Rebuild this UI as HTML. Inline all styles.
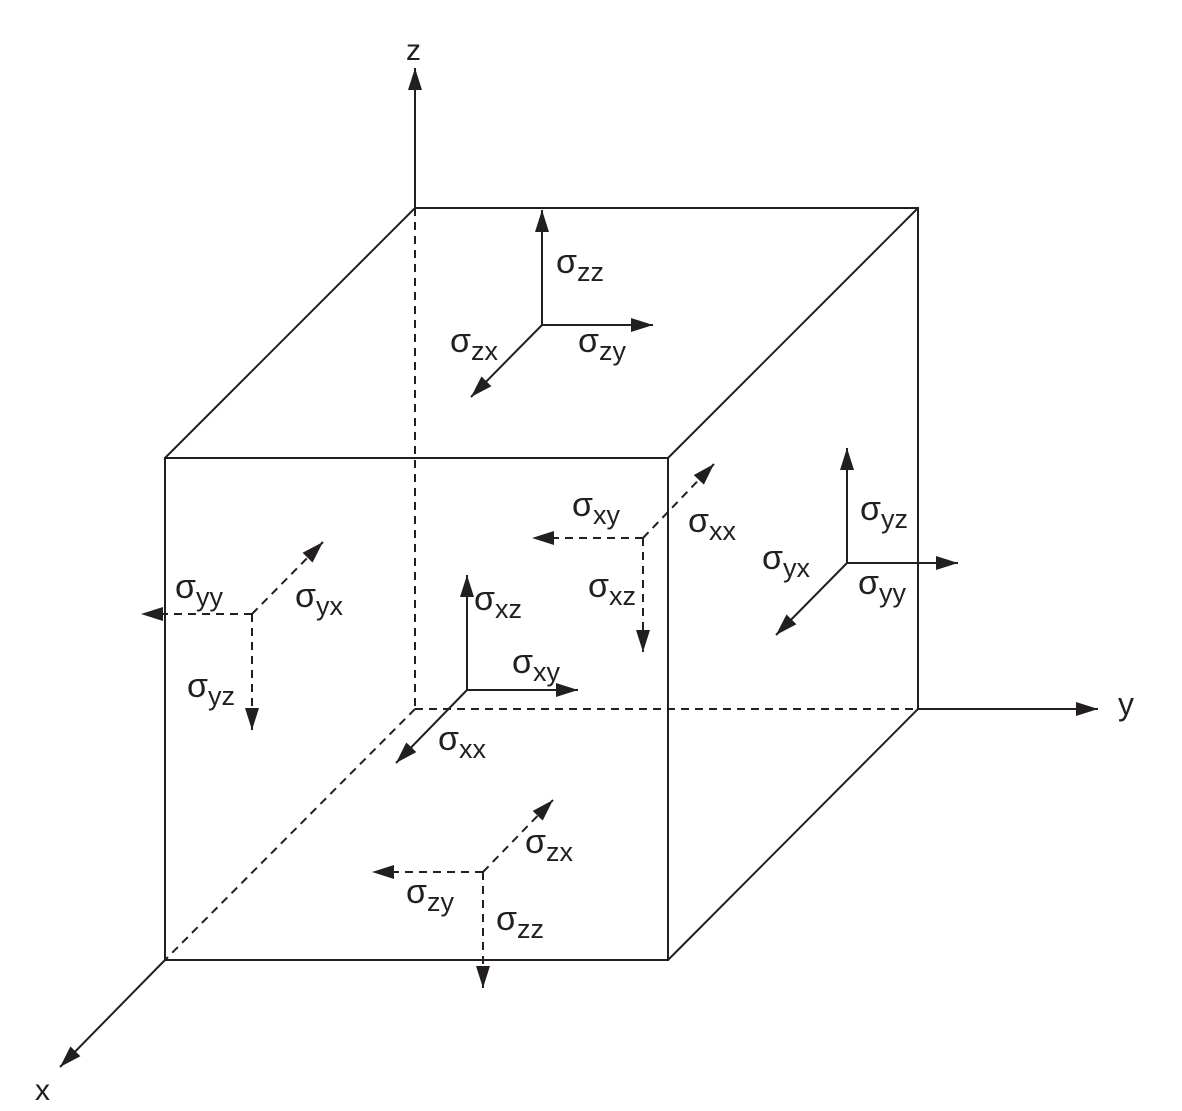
<!DOCTYPE html>
<html><head><meta charset="utf-8"><style>
html,body{margin:0;padding:0;background:#fff;}
svg{display:block;}
text{font-family:"Liberation Sans","DejaVu Sans",sans-serif;fill:#231f20;}
.s{font-size:34px;}
.b{font-size:27px;}
</style></head><body>
<svg width="1182" height="1111" viewBox="0 0 1182 1111" xmlns="http://www.w3.org/2000/svg">
<defs>
<marker id="a" markerUnits="userSpaceOnUse" markerWidth="24" markerHeight="14" refX="22" refY="7" orient="auto">
<path d="M0,0 L22,7 L0,14 Z" fill="#231f20"/>
</marker>
</defs>
<g stroke="#231f20" stroke-width="2" fill="none">
<!-- cube solid -->
<rect x="165" y="458" width="503" height="502"/>
<polyline points="165,458 415,208 918,208 918,709 668,960"/>
<line x1="918" y1="208" x2="668" y2="458"/>
<!-- cube hidden -->
<g stroke-dasharray="8,6">
<line x1="415" y1="208" x2="415" y2="709"/>
<line x1="415" y1="709" x2="918" y2="709"/>
<line x1="415" y1="709" x2="165" y2="960"/>
</g>
<!-- axes -->
<line x1="415" y1="208" x2="415" y2="68" marker-end="url(#a)"/>
<line x1="918" y1="709" x2="1098" y2="709" marker-end="url(#a)"/>
<line x1="165" y1="960" x2="60" y2="1067" marker-end="url(#a)"/>
<!-- top face -->
<line x1="542" y1="325" x2="542" y2="210" marker-end="url(#a)"/>
<line x1="542" y1="325" x2="653" y2="325" marker-end="url(#a)"/>
<line x1="542" y1="325" x2="471" y2="397" marker-end="url(#a)"/>
<!-- right face -->
<line x1="847" y1="563" x2="847" y2="448" marker-end="url(#a)"/>
<line x1="847" y1="563" x2="958" y2="563" marker-end="url(#a)"/>
<line x1="847" y1="563" x2="776" y2="635" marker-end="url(#a)"/>
<!-- front face -->
<line x1="467" y1="690" x2="467" y2="575" marker-end="url(#a)"/>
<line x1="467" y1="690" x2="578" y2="690" marker-end="url(#a)"/>
<line x1="467" y1="690" x2="396" y2="763" marker-end="url(#a)"/>
<g stroke-dasharray="8,6">
<!-- back face -->
<line x1="643" y1="538" x2="532" y2="538" marker-end="url(#a)"/>
<line x1="643" y1="538" x2="643" y2="652" marker-end="url(#a)"/>
<line x1="643" y1="538" x2="714" y2="464" marker-end="url(#a)"/>
<!-- left face -->
<line x1="252" y1="614" x2="141" y2="614" marker-end="url(#a)"/>
<line x1="252" y1="614" x2="252" y2="730" marker-end="url(#a)"/>
<line x1="252" y1="614" x2="323" y2="542" marker-end="url(#a)"/>
<!-- bottom face -->
<line x1="483" y1="872" x2="372" y2="872" marker-end="url(#a)"/>
<line x1="483" y1="872" x2="483" y2="988" marker-end="url(#a)"/>
<line x1="483" y1="872" x2="553" y2="800" marker-end="url(#a)"/>
</g>
</g>
<!-- axis labels -->
<text x="406" y="60" font-size="30">z</text>
<text x="1118" y="715" font-size="32">y</text>
<text x="35" y="1100" font-size="30">x</text>
<!-- stress labels -->
<g>
<text class="s" x="556" y="273">σ<tspan class="b" dy="8">zz</tspan></text>
<text class="s" x="450" y="352">σ<tspan class="b" dy="8">zx</tspan></text>
<text class="s" x="578" y="352">σ<tspan class="b" dy="8">zy</tspan></text>

<text class="s" x="860" y="520">σ<tspan class="b" dy="8">yz</tspan></text>
<text class="s" x="762" y="569">σ<tspan class="b" dy="8">yx</tspan></text>
<text class="s" x="858" y="594">σ<tspan class="b" dy="8">yy</tspan></text>

<text class="s" x="474" y="610">σ<tspan class="b" dy="8">xz</tspan></text>
<text class="s" x="512" y="673">σ<tspan class="b" dy="8">xy</tspan></text>
<text class="s" x="438" y="750">σ<tspan class="b" dy="8">xx</tspan></text>

<text class="s" x="572" y="516">σ<tspan class="b" dy="8">xy</tspan></text>
<text class="s" x="688" y="532">σ<tspan class="b" dy="8">xx</tspan></text>
<text class="s" x="588" y="597">σ<tspan class="b" dy="8">xz</tspan></text>

<text class="s" x="175" y="598">σ<tspan class="b" dy="8">yy</tspan></text>
<text class="s" x="295" y="607">σ<tspan class="b" dy="8">yx</tspan></text>
<text class="s" x="187" y="697">σ<tspan class="b" dy="8">yz</tspan></text>

<text class="s" x="406" y="903">σ<tspan class="b" dy="8">zy</tspan></text>
<text class="s" x="525" y="853">σ<tspan class="b" dy="8">zx</tspan></text>
<text class="s" x="496" y="930">σ<tspan class="b" dy="8">zz</tspan></text>
</g>
</svg>
</body></html>
